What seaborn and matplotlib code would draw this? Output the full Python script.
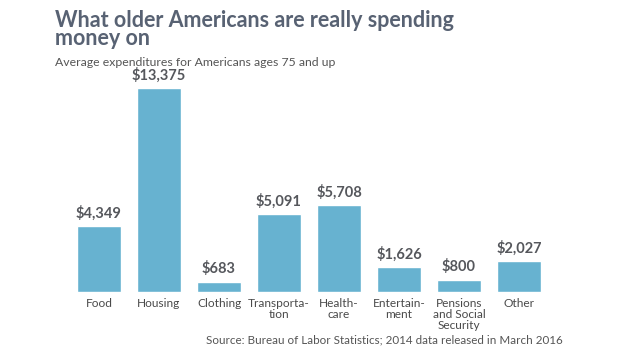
import matplotlib
matplotlib.use('Agg')
import matplotlib.pyplot as plt
import seaborn as sns
import pandas as pd

# Données
categories = ['Food', 'Housing', 'Clothing', 'Transporta-\ntion', 'Health-\ncare',
              'Entertain-\nment', 'Pensions\nand Social\nSecurity', 'Other']
spending = [4349, 13375, 683, 5091, 5708, 1626, 800, 2027]
value_labels = ['$4,349', '$13,375', '$683', '$5,091', '$5,708', '$1,626', '$800', '$2,027']

title = 'What older Americans are really spending\nmoney on'
subtitle = 'Average expenditures for Americans ages 75 and up'
source = 'Source: Bureau of Labor Statistics; 2014 data released in March 2016'

sns.set_style('white')
plt.rcParams['font.family'] = ['Lato', 'DejaVu Sans']

df = pd.DataFrame({'category': categories, 'spending': spending})

fig = plt.figure(figsize=(6.24, 3.51), dpi=100)
ax = fig.add_axes([69 / 624, 59 / 351, 480 / 624, 232 / 351])

sns.barplot(data=df, x='category', y='spending', color='#67b2d0', saturation=1,
            width=0.73, ax=ax)
ax.set_xlim(-0.5, 7.5)
ax.set_ylim(0, 15211)

for i, (v, lab) in enumerate(zip(spending, value_labels)):
    ax.text(i, v + 350, lab, ha='center', va='bottom', fontsize=10.5,
            fontweight='bold', color='#55575c')

ax.set_xlabel('')
ax.set_ylabel('')
ax.set_yticks([])
ax.tick_params(axis='x', length=0, pad=4, labelsize=8.6, labelcolor='#4a4a4a')
for lab in ax.get_xticklabels():
    lab.set_linespacing(1.0)
    lab.set_va('top')
sns.despine(ax=ax, left=True, bottom=True)

fig.text(55 / 624, 1 - 10 / 351, title, ha='left', va='top', fontsize=15.5,
         fontweight='bold', color='#586273', linespacing=0.85)
fig.text(55 / 624, 1 - 62 / 351, subtitle, ha='left', va='center', fontsize=8.8,
         color='#555555')
fig.text(563 / 624, 1 - 340 / 351, source, ha='right', va='center', fontsize=8.4,
         color='#555555')

plt.savefig('out.png', dpi=100)
